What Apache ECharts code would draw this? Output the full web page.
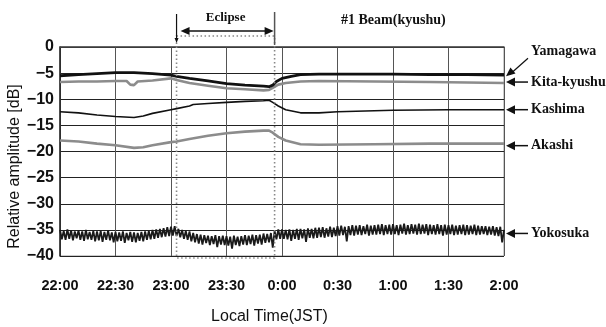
<!DOCTYPE html>
<html>
<head>
<meta charset="utf-8">
<script src="https://cdn.jsdelivr.net/npm/echarts@6/dist/echarts.min.js"></script>
<style>
  html, body {margin: 0; background: #fff;}
  #chart {width: 606px; height: 327px;}
</style>
</head>
<body>
<div id="chart"></div>
<script>
// x is minutes after 22:00 local time
const timeTicks = ['22:00', '22:30', '23:00', '23:30', '0:00', '0:30', '1:00', '1:30', '2:00'];
const eclipse = [63, 116];
const stations = ['Yamagawa', 'Kita-kyushu', 'Kashima', 'Akashi', 'Yokosuka'];

const yamagawa = [[0, -5.5], [10, -5.3], [20, -5.1], [30, -4.9], [40, -4.9], [50, -5.1], [60, -5.4], [63, -5.6],
  [70, -6.0], [80, -6.5], [90, -7.0], [100, -7.3], [110, -7.5], [113, -7.6], [115, -7.3], [117, -6.6], [120, -6.0],
  [125, -5.6], [130, -5.3], [140, -5.2], [160, -5.2], [180, -5.2], [200, -5.3], [220, -5.3], [240, -5.4]];
const kitaKyushu = [[0, -6.7], [10, -6.6], [20, -6.6], [30, -6.5], [36, -6.5], [38, -7.2], [40, -7.3], [42, -6.6],
  [50, -6.4], [60, -6.0], [63, -6.3], [70, -6.9], [80, -7.4], [90, -7.9], [100, -8.1], [110, -8.3], [113, -8.2],
  [115, -7.8], [118, -7.2], [122, -6.9], [130, -6.6], [140, -6.5], [170, -6.6], [200, -6.7], [240, -6.9]];
const kashima = [[0, -12.4], [10, -12.6], [20, -13.0], [30, -13.3], [40, -13.5], [45, -13.2], [50, -12.7], [60, -12.0],
  [63, -11.8], [70, -11.3], [72, -11.0], [80, -10.8], [90, -10.6], [100, -10.4], [110, -10.3], [113, -10.2],
  [115, -10.6], [118, -11.3], [122, -12.0], [130, -12.6], [140, -12.6], [150, -12.4], [180, -12.1], [210, -12.0], [240, -12.0]];
const akashi = [[0, -17.9], [10, -18.1], [20, -18.5], [30, -18.8], [40, -19.3], [45, -19.2], [50, -18.8], [60, -18.2],
  [63, -18.1], [70, -17.6], [80, -17.0], [90, -16.5], [100, -16.2], [110, -16.0], [113, -16.0], [115, -16.4],
  [118, -17.2], [122, -17.9], [130, -18.6], [140, -18.7], [170, -18.6], [200, -18.5], [240, -18.5]];

// Yokosuka is noisy: one reading per minute, 22:00 to 2:00
const yokoStep = 1;
const yokosuka = [
  -35.0, -36.8, -35.2, -36.9, -34.9, -36.7, -35.1, -37.0, -35.3, -36.6,
  -35.1, -36.9, -35.3, -37.1, -35.0, -36.8, -35.4, -36.9, -35.2, -37.2,
  -35.3, -37.0, -35.2, -37.3, -35.4, -36.9, -35.1, -37.0, -35.5, -37.4,
  -35.4, -37.2, -35.5, -37.1, -35.3, -37.5, -35.6, -37.0, -35.4, -37.3,
  -35.5, -37.4, -35.6, -37.1, -35.4, -37.2, -35.3, -36.9, -35.2, -36.8,
  -35.0, -36.7, -34.9, -36.5, -34.8, -36.4, -34.7, -36.3, -34.5, -36.2,
  -34.4, -36.1, -34.3, -36.2, -34.8, -36.4, -35.0, -36.7, -35.2, -36.9,
  -35.3, -37.2, -35.6, -37.4, -35.8, -37.6, -35.9, -37.8, -36.0, -37.5,
  -36.1, -37.9, -36.2, -37.7, -36.0, -38.3, -36.2, -37.8, -36.1, -37.9,
  -36.2, -38.0, -36.3, -38.6, -36.1, -37.9, -36.3, -38.1, -36.2, -37.8,
  -36.0, -37.9, -36.1, -37.7, -35.9, -38.0, -36.0, -37.6, -35.9, -37.8,
  -35.7, -37.5, -35.8, -37.4, -35.6, -38.4, -35.2, -36.8, -34.9, -36.7,
  -34.9, -36.7, -35.0, -36.8, -34.9, -37.1, -35.0, -36.7, -34.8, -36.9,
  -34.8, -36.6, -34.9, -37.3, -34.7, -36.5, -34.8, -36.6, -34.6, -36.5,
  -34.6, -36.4, -34.5, -36.5, -34.7, -36.3, -34.4, -36.4, -34.6, -36.2,
  -34.3, -36.1, -34.2, -36.0, -34.4, -37.2, -34.3, -36.0, -34.1, -36.1,
  -34.2, -35.9, -34.1, -36.0, -34.3, -35.8, -34.0, -36.1, -34.2, -35.9,
  -34.1, -35.9, -34.0, -35.8, -33.9, -36.0, -34.1, -35.8, -34.0, -35.9,
  -33.9, -35.8, -34.1, -36.0, -34.0, -35.7, -33.8, -35.9, -34.1, -35.8,
  -33.9, -35.7, -34.0, -35.9, -33.8, -35.8, -34.0, -35.7, -33.9, -36.0,
  -34.0, -35.8, -34.1, -35.9, -33.9, -35.8, -34.1, -36.1, -34.0, -35.9,
  -34.1, -35.8, -34.0, -36.0, -34.2, -35.9, -34.1, -35.8, -34.0, -36.0,
  -34.1, -35.9, -34.2, -35.8, -34.0, -36.0, -34.2, -35.9, -34.3, -35.8,
  -34.3, -36.0, -34.4, -35.9, -34.3, -36.1, -34.5, -36.2, -34.4, -37.4, -35.0
];

const sans = "'Liberation Sans', Arial, sans-serif";
const serif = "'Liberation Serif', 'DejaVu Serif', serif";

const chart = echarts.init(document.getElementById('chart'));

const line = (name, data, color, width) => ({
  name, type: 'line', data, showSymbol: false, symbol: 'none',
  lineStyle: {color, width}, z: 3
});

chart.setOption({
  animation: false,
  backgroundColor: '#fff',
  title: {
    text: '#1 Beam(kyushu)',
    left: 336, top: 8,
    textStyle: {fontFamily: serif, fontWeight: 'bold', fontSize: 14, color: '#111'}
  },
  grid: {left: 60, right: 102, top: 47, height: 209, show: true, borderColor: '#999', borderWidth: 1,
    containLabel: false, outerBoundsMode: 'none'},
  xAxis: {
    type: 'value', min: 0, max: 240, interval: 30,
    axisLine: {show: true, lineStyle: {color: '#444', width: 1.5}},
    axisTick: {show: false},
    axisLabel: {
      margin: 22, color: '#111', fontFamily: sans, fontWeight: 'bold', fontSize: 14.5,
      formatter: v => timeTicks[v / 30]
    },
    splitLine: {show: true, lineStyle: {color: '#555', width: 1}},
    name: 'Local Time(JST)', nameLocation: 'middle', nameGap: 53, nameMoveOverlap: false,
    nameTextStyle: {fontFamily: sans, fontSize: 16, color: '#111', padding: [0, 25, 0, 0]}
  },
  yAxis: {
    type: 'value', min: -40, max: 0, interval: 5,
    axisLine: {show: true, lineStyle: {color: '#222', width: 1.5}},
    axisTick: {show: false},
    axisLabel: {
      margin: 6, color: '#111', fontFamily: sans, fontWeight: 'bold', fontSize: 16,
      formatter: v => String(v).replace('-', '\u2212')
    },
    splitLine: {show: true, lineStyle: {color: '#222', width: 1}},
    name: 'Relative amplitude [dB]', nameLocation: 'middle', nameGap: 37, nameMoveOverlap: false,
    nameTextStyle: {fontFamily: sans, fontSize: 16, color: '#111', padding: [0, 30, 0, 0]}
  },
  series: [
    line('Yokosuka', yokosuka.map((v, i) => [i * yokoStep, v]), '#1a1a1a', 1.8),
    line('Akashi', akashi, '#8c8c8c', 2.6),
    line('Kashima', kashima, '#111', 1.6),
    line('Kita-kyushu', kitaKyushu, '#8c8c8c', 2.6),
    line('Yamagawa', yamagawa, '#111', 2.8)
  ]
});

// annotations placed through the axes
const px = (x, y) => chart.convertToPixel({gridIndex: 0}, [x, y]);
const arrowHead = (x0, y0, x1, y1, color, len, half) => {
  const a = Math.atan2(y1 - y0, x1 - x0);
  const bx = x1 - len * Math.cos(a), by = y1 - len * Math.sin(a);
  return {
    type: 'polygon', silent: true, z: 10,
    shape: {points: [[x1, y1], [bx + half * Math.sin(a), by - half * Math.cos(a)], [bx - half * Math.sin(a), by + half * Math.cos(a)]]},
    style: {fill: color}
  };
};
const seg = (x0, y0, x1, y1, color, width, dash) => ({
  type: 'line', silent: true, z: 10,
  shape: {x1: x0, y1: y0, x2: x1, y2: y1},
  style: {stroke: color, lineWidth: width, lineDash: dash || null}
});

const graphics = [];
const [ex1, yTop] = px(eclipse[0], 0);
const [ex2] = px(eclipse[1], 0);
const [, yBot] = px(0, -40);
// dotted eclipse box
graphics.push({
  type: 'rect', silent: true, z: 9,
  shape: {x: ex1, y: yTop - 11, width: ex2 - ex1, height: yBot - yTop + 13},
  style: {fill: null, stroke: '#888', lineWidth: 1.6, lineDash: [1.5, 2.5]}
});
graphics.push(seg(ex1, yTop - 33, ex1, yTop - 8, '#111', 1.2));
graphics.push(arrowHead(ex1, yTop - 20, ex1, yTop - 4, '#111', 5, 2));
graphics.push(seg(ex2, yTop - 35, ex2, yTop - 2, '#555', 1.5));
graphics.push(seg(ex1 + 8, yTop - 16, ex2 - 8, yTop - 16, '#111', 1.5));
graphics.push(arrowHead(ex2 - 20, yTop - 16, ex1 + 4, yTop - 16, '#111', 9, 4));
graphics.push(arrowHead(ex1 + 20, yTop - 16, ex2 - 1, yTop - 16, '#111', 9, 4));
graphics.push({
  type: 'text', silent: true, z: 10,
  style: {x: (ex1 + ex2) / 2, y: yTop - 29, text: 'Eclipse', align: 'center', verticalAlign: 'middle',
    font: "bold 13px 'Liberation Serif', serif", fill: '#111'}
});

// station labels with arrows
const ends = [yamagawa[yamagawa.length - 1][1], kitaKyushu[kitaKyushu.length - 1][1],
  kashima[kashima.length - 1][1], akashi[akashi.length - 1][1], -35.3];
const labelDy = [-23, -1, 0, 2, 2];
ends.forEach((v, i) => {
  const [xr, yr] = px(240, v);
  const ly = yr + labelDy[i];
  if (i === 0) {
    graphics.push(seg(xr + 24, ly + 6, xr + 6, yr - 1, '#111', 1.2));
    graphics.push(arrowHead(xr + 24, ly + 6, xr + 2, yr + 1, '#111', 9, 4));
  } else {
    graphics.push(seg(xr + 24, ly, xr + 8, ly, '#111', 1.5));
    graphics.push(arrowHead(xr + 24, ly, xr + 2, ly, '#111', 9, 4.5));
  }
  graphics.push({
    type: 'text', silent: true, z: 10,
    style: {x: xr + 27, y: ly - (i === 0 ? 1 : 0), text: stations[i], verticalAlign: 'middle',
      font: "bold 14px 'Liberation Serif', serif", fill: '#111'}
  });
});
chart.setOption({graphic: graphics});
</script>
</body>
</html>
